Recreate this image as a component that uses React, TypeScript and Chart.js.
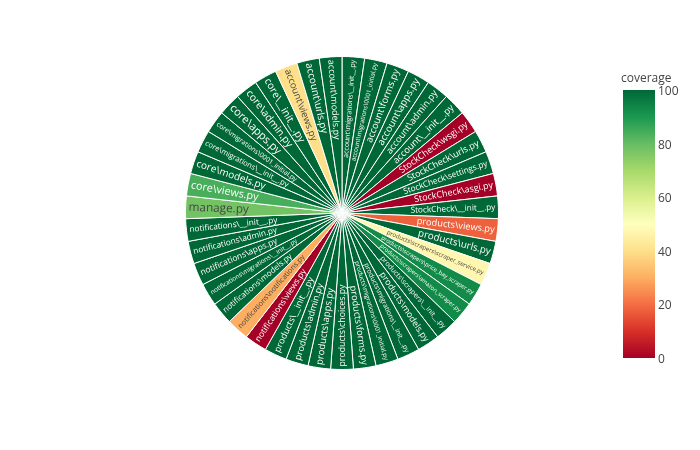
import React, { useEffect, useRef } from 'react';
import { Chart, registerables } from 'chart.js';

Chart.register(...registerables);

const files: string[] = [
  'account\\migrations\\__init__.py', 'account\\migrations\\0001_initial.py', 'account\\forms.py', 'account\\apps.py',
  'account\\admin.py', 'account\\__init__.py', 'StockCheck\\wsgi.py', 'StockCheck\\urls.py', 'StockCheck\\settings.py',
  'StockCheck\\asgi.py', 'StockCheck\\__init__.py', 'products\\views.py', 'products\\urls.py',
  'products\\scrapers\\scraper_service.py', 'products\\scrapers\\price_bay_scraper.py', 'products\\scrapers\\amazon_scraper.py',
  'products\\scrapers\\__init__.py', 'products\\models.py', 'products\\migrations\\__init__.py',
  'products\\migrations\\0001_initial.py', 'products\\forms.py', 'products\\choices.py', 'products\\apps.py',
  'products\\admin.py', 'products\\__init__.py', 'notifications\\views.py', 'notifications\\notifications.py',
  'notifications\\models.py', 'notifications\\migrations\\__init__.py', 'notifications\\apps.py',
  'notifications\\admin.py', 'notifications\\__init__.py', 'manage.py', 'core\\views.py', 'core\\models.py',
  'core\\migrations\\__init__.py', 'core\\migrations\\0001_initial.py', 'core\\apps.py', 'core\\admin.py',
  'core\\__init__.py', 'account\\views.py', 'account\\urls.py', 'account\\models.py',
];

const coverage: number[] = [
  100, 100, 100, 100, 100, 100, 0, 100, 100, 0, 100, 18, 100, 47, 93, 93, 100, 100, 100,
  100, 100, 100, 100, 100, 100, 0, 30, 100, 100, 100, 100, 100, 78, 84, 100, 100, 100,
  100, 100, 100, 40, 100, 100,
];

const colorTicks: number[] = [0, 20, 40, 60, 80, 100];

const scale: [number, number[]][] = [
  [0, [165, 0, 38]], [0.1, [215, 48, 39]], [0.2, [244, 109, 67]], [0.3, [253, 174, 97]],
  [0.4, [254, 224, 139]], [0.5, [255, 255, 191]], [0.6, [217, 239, 139]], [0.7, [166, 217, 106]],
  [0.8, [102, 189, 99]], [0.9, [26, 152, 80]], [1, [0, 104, 55]],
];

function rgbAt(v: number): number[] {
  const t = Math.max(0, Math.min(1, v / 100));
  for (let i = 1; i < scale.length; i++) {
    if (t <= scale[i][0]) {
      const [t0, c0] = scale[i - 1];
      const [t1, c1] = scale[i];
      const f = (t - t0) / (t1 - t0);
      return c0.map((c, k) => Math.round(c + (c1[k] - c) * f));
    }
  }
  return scale[scale.length - 1][1];
}
const css = (c: number[]) => `rgb(${c[0]},${c[1]},${c[2]})`;

const FONT = '"Open Sans", sans-serif';

const labelPlugin = {
  id: 'radialLabels',
  afterDatasetsDraw(chart: any) {
    const ctx = chart.ctx;
    const meta = chart.getDatasetMeta(0);
    meta.data.forEach((arc: any, i: number) => {
      const { x, y, startAngle, endAngle, outerRadius } = arc.getProps(['x', 'y', 'startAngle', 'endAngle', 'outerRadius'], true);
      const mid = (startAngle + endAngle) / 2;
      const half = (endAngle - startAngle) / 2;
      const text = files[i];
      let size = 12;
      for (; size > 4; size -= 0.25) {
        ctx.font = `${size}px ${FONT}`;
        const w = ctx.measureText(text).width;
        const inner = outerRadius - 3 - w;
        if (inner < 8) continue;
        if (2 * inner * Math.sin(half) >= size * 1.15) break;
      }
      const c = rgbAt(coverage[i]);
      const lum = 0.299 * c[0] + 0.587 * c[1] + 0.114 * c[2];
      ctx.save();
      ctx.font = `${size}px ${FONT}`;
      ctx.fillStyle = lum > 140 ? '#444' : '#fff';
      ctx.textBaseline = 'middle';
      const px = x + Math.cos(mid) * (outerRadius - 3);
      const py = y + Math.sin(mid) * (outerRadius - 3);
      ctx.translate(px, py);
      if (Math.cos(mid) >= 0) {
        ctx.rotate(mid);
        ctx.textAlign = 'right';
      } else {
        ctx.rotate(mid + Math.PI);
        ctx.textAlign = 'left';
      }
      ctx.fillText(text, 0, 0);
      ctx.restore();
    });
  },
};

const App: React.FC = () => {
  const canvasRef = useRef<HTMLCanvasElement>(null);
  const chartRef = useRef<Chart | null>(null);

  useEffect(() => {
    if (!canvasRef.current) return;
    chartRef.current?.destroy();
    chartRef.current = new Chart(canvasRef.current, {
      type: 'pie',
      data: {
        labels: files,
        datasets: [{
          data: files.map(() => 1),
          backgroundColor: coverage.map((v) => css(rgbAt(v))),
          borderColor: '#fff',
          borderWidth: 1,
        }],
      },
      options: {
        responsive: false,
        animation: false,
        layout: { padding: { left: 185, right: 201, top: 56, bottom: 80 } },
        plugins: { legend: { display: false }, tooltip: { enabled: false } },
      },
      plugins: [labelPlugin],
    });
    return () => {
      chartRef.current?.destroy();
      chartRef.current = null;
    };
  }, []);

  const gradient = `linear-gradient(to top, ${scale.map(([t, c]) => `${css(c)} ${t * 100}%`).join(', ')})`;

  return (
    <div style={{ position: 'fixed', left: 0, top: 0, width: 700, height: 450, background: '#fff', fontFamily: FONT }}>
      <canvas ref={canvasRef} width={700} height={450} />
      <div style={{ position: 'absolute', left: 621, top: 69, fontSize: 12, color: '#444' }}>coverage</div>
      <div style={{ position: 'absolute', left: 623, top: 90, width: 32, height: 268, background: gradient }} />
      {colorTicks.map((t) => (
        <div key={t} style={{ position: 'absolute', left: 658, top: 90 + 268 * (1 - t / 100) - 8, fontSize: 12, color: '#444' }}>
          {t}
        </div>
      ))}
    </div>
  );
};

export default App;
